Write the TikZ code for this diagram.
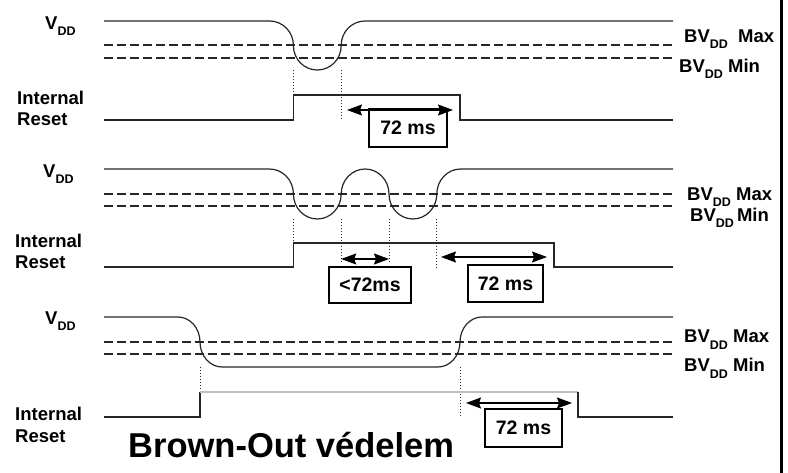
\documentclass[tikz,border=0pt]{standalone}
\usepackage{fontspec}
\setmainfont{Liberation Sans}
\usetikzlibrary{arrows.meta}
\begin{document}
\begin{tikzpicture}[x=1pt,y=-1pt,
  wave/.style={line width=1.2pt, black!85},
  gwave/.style={line width=1.2pt, black!25},
  thr/.style={line width=1.1pt, dash pattern=on 9pt off 4pt, black!85},
  dotv/.style={line width=0.9pt, dash pattern=on 1pt off 2pt, black!85},
  dimarr/.style={line width=1.1pt, {Stealth[length=15pt,width=11pt,inset=2pt]}-{Stealth[length=15pt,width=11pt,inset=2pt]}},
  msbox/.style={draw, line width=2.6pt, fill=white, inner sep=0pt, font=\fontsize{19.5}{19.5}\selectfont\bfseries},
  lbl/.style={anchor=base west, inner sep=0pt, font=\fontsize{18.5}{18.5}\selectfont\bfseries},
]
\useasboundingbox (0,0) rectangle (788,473);
\newcommand{\sDD}{\raisebox{-6pt}{\fontsize{12.5}{12.5}\selectfont DD}}

% right border
\draw[line width=3pt] (781.5,0) -- (781.5,473);

% ===== Panel 1 =====
\node[lbl] (v1) at (45,30) {V\sDD};
\node[lbl] (ir1a) at (17,105) {Internal};
\node[lbl] (ir1b) at (17,126) {Reset};
\node[lbl] (mx1) at (684,43) {BV\sDD\ \ Max};
\node[lbl] (mn1) at (679,73) {BV\sDD\ Min};
\draw[thr] (104,45) -- (673,45);
\draw[thr] (104,58) -- (673,58);
\draw[wave] (104,21) -- (269.5,21) .. controls (282.7,21) and (293.4,31.75) .. (293.4,45.5) .. controls (293.4,59.25) and (304.1,70) .. (317.3,70) .. controls (330.5,70) and (341.2,59.25) .. (341.2,45.5) .. controls (341.2,31.75) and (351.9,21) .. (365.1,21) -- (673,21);
\draw[dotv] (293.4,70) -- (293.4,95);
\draw[dotv] (341.2,70) -- (341.2,120);
\draw[wave] (104,120) -- (293.4,120) -- (293.4,95) -- (460,95) -- (460,120) -- (673,120);
\node[msbox, minimum width=78pt, minimum height=38pt] (b1) at (408,128) {72 ms};
\coordinate (a1l) at (347,110);
\coordinate (a1r) at (453,110);
\draw[dimarr] (a1l) -- (a1r);

% ===== Panel 2 =====
\node[lbl] (v2) at (43,178) {V\sDD};
\node[lbl] (ir2a) at (15,248) {Internal};
\node[lbl] (ir2b) at (15,269) {Reset};
\node[lbl] (mx2) at (687,201) {BV\sDD\ Max};
\node[lbl] (mn2) at (690,222) {BV\sDD\,Min};
\draw[thr] (104,194) -- (673,194);
\draw[thr] (104,206) -- (673,206);
\draw[wave] (104,169) -- (269.5,169) .. controls (282.7,169) and (293.4,180.25) .. (293.4,194) .. controls (293.4,207.75) and (304.1,219) .. (317.3,219) .. controls (330.5,219) and (341.2,207.75) .. (341.2,194) .. controls (341.2,180.25) and (351.9,169) .. (365.1,169) .. controls (378.3,169) and (389,180.25) .. (389,194) .. controls (389,207.75) and (399.7,219) .. (412.9,219) .. controls (426.1,219) and (436.8,207.75) .. (436.8,194) .. controls (436.8,180.25) and (447.5,169) .. (460.7,169) -- (673,169);
\draw[dotv] (293.4,219) -- (293.4,243);
\draw[dotv] (341.2,219) -- (341.2,263);
\draw[dotv] (389,219) -- (389,263);
\draw[dotv] (436.8,219) -- (436.8,268);
\draw[wave] (104,267) -- (293.4,267) -- (293.4,243) -- (554,243) -- (554,267) -- (673,267);
\node[msbox, minimum width=82pt, minimum height=36pt] (b2) at (370,285) {<72ms};
\node[msbox, minimum width=75pt, minimum height=37pt] (b3) at (505.5,283.5) {72 ms};
\coordinate (a2l) at (341.2,259);
\coordinate (a2r) at (389,259);
\draw[dimarr] (a2l) -- (a2r);
\coordinate (a3l) at (441,257);
\coordinate (a3r) at (547,257);
\draw[dimarr] (a3l) -- (a3r);

% ===== Panel 3 =====
\node[lbl] (v3) at (45,325) {V\sDD};
\node[lbl] (ir3a) at (15,420) {Internal};
\node[lbl] (ir3b) at (15,442) {Reset};
\node[lbl] (mx3) at (684,343) {BV\sDD\ Max};
\node[lbl] (mn3) at (684,372) {BV\sDD\ Min};
\draw[thr] (104,342) -- (673,342);
\draw[thr] (104,354) -- (673,354);
\draw[wave] (104,317) -- (178,317) .. controls (190.1,317) and (200,328.25) .. (200,342) .. controls (200,355.75) and (209.9,367) .. (222,367) -- (438,367) .. controls (450.1,367) and (460,355.75) .. (460,342) .. controls (460,328.25) and (469.9,317) .. (482,317) -- (673,317);
\draw[dotv] (200,367) -- (200,392);
\draw[dotv] (460,367) -- (460,417);
\draw[wave] (104,417) -- (200,417) -- (200,392);
\draw[gwave] (200,392) -- (578,392);
\draw[wave] (578,392) -- (578,417) -- (673,417);
\node[msbox, minimum width=77pt, minimum height=38pt] (b4) at (523.5,428) {72 ms};
\coordinate (a4l) at (466,403);
\coordinate (a4r) at (572,403);
\draw[dimarr] (a4l) -- (a4r);

% title
\node[anchor=base west, inner sep=0pt, font=\fontsize{34.5}{34.5}\selectfont\bfseries] (title) at (128,457) {Brown-Out védelem};
\end{tikzpicture}
\end{document}
